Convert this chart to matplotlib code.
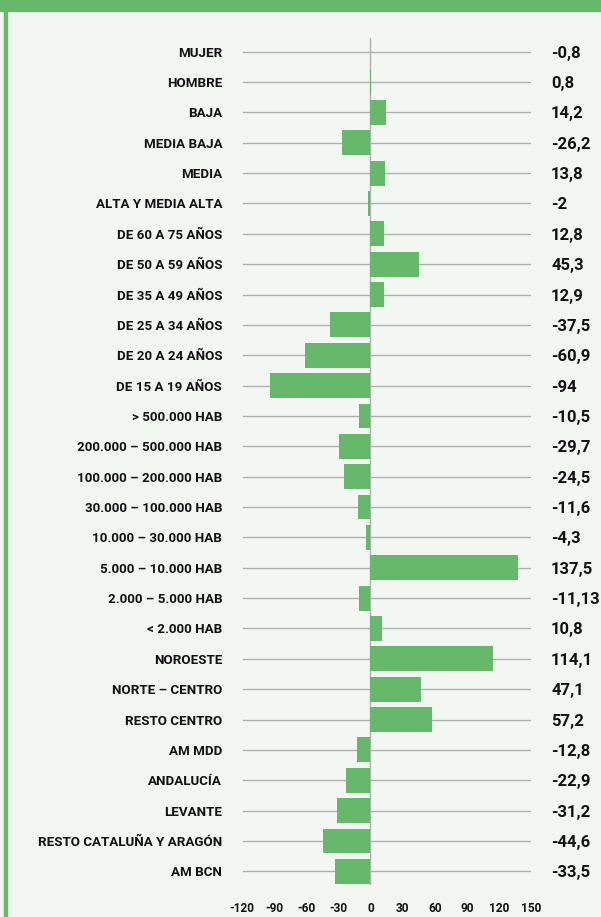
import matplotlib
matplotlib.use("Agg")
import matplotlib.pyplot as plt
from matplotlib.patches import Rectangle

categories = [
    "MUJER", "HOMBRE", "BAJA", "MEDIA BAJA", "MEDIA", "ALTA Y MEDIA ALTA",
    "DE 60 A 75 AÑOS", "DE 50 A 59 AÑOS", "DE 35 A 49 AÑOS", "DE 25 A 34 AÑOS",
    "DE 20 A 24 AÑOS", "DE 15 A 19 AÑOS", "> 500.000 HAB", "200.000 – 500.000 HAB",
    "100.000 – 200.000 HAB", "30.000 – 100.000 HAB", "10.000 – 30.000 HAB",
    "5.000 – 10.000 HAB", "2.000 – 5.000 HAB", "< 2.000 HAB", "NOROESTE",
    "NORTE – CENTRO", "RESTO CENTRO", "AM MDD", "ANDALUCÍA", "LEVANTE",
    "RESTO CATALUÑA Y ARAGÓN", "AM BCN",
]
values = [
    -0.8, 0.8, 14.2, -26.2, 13.8, -2, 12.8, 45.3, 12.9, -37.5, -60.9, -94,
    -10.5, -29.7, -24.5, -11.6, -4.3, 137.5, -11.13, 10.8, 114.1, 47.1, 57.2,
    -12.8, -22.9, -31.2, -44.6, -33.5,
]
xticks = [-120, -90, -60, -30, 0, 30, 60, 90, 120, 150]

plt.rcParams["font.family"] = ["Roboto", "DejaVu Sans"]

GREEN = "#66b96b"
BG = "#f3f7f2"

W, H = 601, 917
fig = plt.figure(figsize=(W / 100, H / 100), dpi=100)
fig.patch.set_facecolor(BG)

# header band and left border
fig.patches.append(Rectangle((0, 1 - 11 / H), 1, 11 / H, transform=fig.transFigure,
                             color=GREEN, zorder=0))
fig.patches.append(Rectangle((4 / W, 0), 3 / W, 1 - 11 / H, transform=fig.transFigure,
                             color=GREEN, zorder=0))

ax = fig.add_axes([241 / W, 1 - 885 / H, 290 / W, (885 - 38) / H])
ax.set_facecolor("none")
n = len(categories)
ypos = list(range(n))
for y in ypos:
    ax.plot([-119, 150], [y, y], color="#b0b0b0", lw=1, zorder=1)
ax.axvline(0, color="#b0b0b0", lw=1, zorder=1)
ax.barh(ypos, values, height=0.82, color=GREEN, zorder=2)
ax.set_xlim(-121, 150)
ax.set_ylim(n - 1 + 0.45, -0.45)
for s in ax.spines.values():
    s.set_visible(False)
ax.set_yticks(ypos)
ax.set_yticklabels(categories, fontsize=9.6, fontweight="bold", color="#111111")
ax.tick_params(axis="y", length=0, pad=13.5)
ax.set_xticks(xticks)
ax.set_xticklabels([str(t) for t in xticks], fontsize=8.6, fontweight="bold", color="#111111")
ax.tick_params(axis="x", length=0, pad=12)

for y, v in zip(ypos, values):
    lab = f"{v:g}".replace(".", ",")
    ax.annotate(lab, xy=(1, y), xycoords=("axes fraction", "data"),
                xytext=(14.5, 0), textcoords="offset points", color="#111111",
                ha="left", va="center_baseline", fontsize=12, fontweight="bold")

fig.savefig("out.png", dpi=100, facecolor=BG)
